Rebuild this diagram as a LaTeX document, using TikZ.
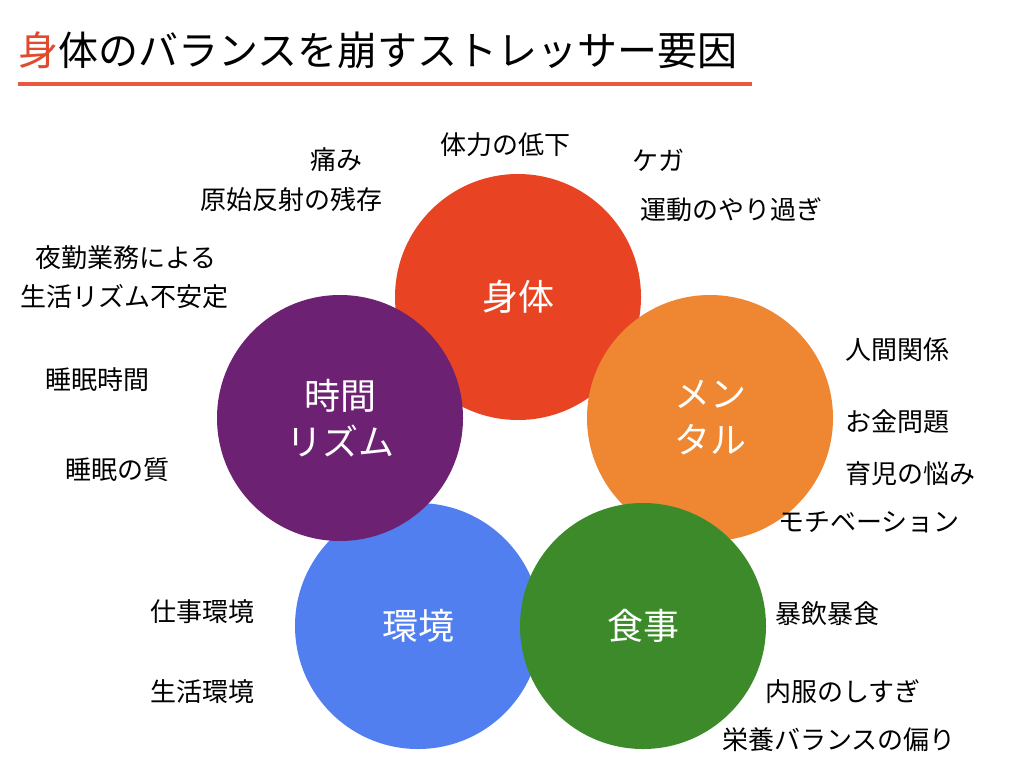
\documentclass[tikz,border=0pt]{standalone}
\usepackage{fontspec}
\setmainfont{Noto Sans CJK JP}
\definecolor{cred}{HTML}{E84424}
\definecolor{cora}{HTML}{EF8632}
\definecolor{cblu}{HTML}{527FF0}
\definecolor{cgrn}{HTML}{3C8A2A}
\definecolor{cpur}{HTML}{6D2173}
\definecolor{ctit}{HTML}{E04A2E}
\definecolor{cund}{HTML}{E8573F}
\begin{document}
\begin{tikzpicture}[x=1pt,y=-1pt,
 lab/.style={font=\fontsize{26}{30}\selectfont,anchor=west,inner sep=0},
 ctr/.style={circle,minimum size=246pt,inner sep=0,text=white,font=\fontsize{36}{46}\selectfont,align=center}]
\useasboundingbox[fill=white] (0,0) rectangle (1024,768);
\node[anchor=west,inner sep=0,font=\fontsize{40}{44}\selectfont] (t) at (18,50) {\textcolor{ctit}{身}体のバランスを崩すストレッサー要因};
\coordinate (u1) at (18,84); \coordinate (u2) at (752,84);
\draw[line width=4pt,color=cund] (u1) -- (u2);
\node[ctr,fill=cred] (a) at (518,297) {身体};
\node[ctr,fill=cora] (b) at (710,418) {メン\\タル};
\node[ctr,fill=cblu] (d) at (418,626) {環境};
\node[ctr,fill=cgrn] (c) at (643,626) {食事};
\node[ctr,fill=cpur] (e) at (340,418) {時間\\リズム};
\node[lab] at (310,160) {痛み};
\node[lab] at (200,200) {原始反射の残存};
\node[lab] at (440,145) {体力の低下};
\node[lab] at (632,160) {ケガ};
\node[lab] at (640,210) {運動のやり過ぎ};
\node[lab] at (35,258) {夜勤業務による};
\node[lab] at (20,297) {生活リズム不安定};
\node[lab] at (45,380) {睡眠時間};
\node[lab] at (65,470) {睡眠の質};
\node[lab] at (845,350) {人間関係};
\node[lab] at (845,422) {お金問題};
\node[lab] at (845,474) {育児の悩み};
\node[lab] at (778,522) {モチベーション};
\node[lab] at (150,612) {仕事環境};
\node[lab] at (150,692) {生活環境};
\node[lab] at (775,614) {暴飲暴食};
\node[lab] at (765,692) {内服のしすぎ};
\node[lab] at (722,740) {栄養バランスの偏り};
\end{tikzpicture}
\end{document}
